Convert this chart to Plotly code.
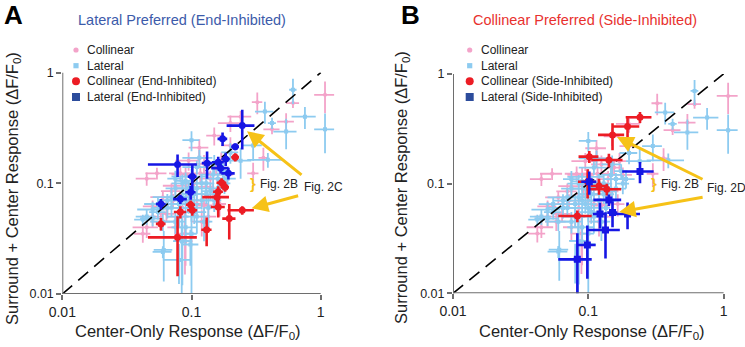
import math
import plotly.graph_objects as go

# ---------------- data (all cells, shared background) ----------------
bg_col_x    = [1.08, 0.61, 0.323, 0.54, 0.42, 0.24, 0.20, 0.30, 0.36, 0.20, 0.15, 0.115, 0.115, 0.095, 0.082, 0.054,
               0.042, 0.064, 0.050, 0.072, 0.125, 0.147, 0.165, 0.117, 0.130, 0.155, 0.092, 0.090, 0.080, 0.070,
               0.105, 0.060, 0.100, 0.120, 0.075, 0.180,
               0.089, 0.065, 0.085, 0.100, 0.110, 0.075, 0.140, 0.058, 0.045, 0.125, 0.090, 0.170, 0.050, 0.135, 0.045]
bg_col_xerr = [0.19, 0.07, 0.03, 0.08, 0.06, 0.05, 0.04, 0.03, 0.03, 0.03, 0.02, 0.02, 0.02, 0.02, 0.015, 0.01,
               0.006, 0.01, 0.008, 0.012, 0.02, 0.02, 0.02, 0.025, 0.02, 0.02, 0.015, 0.012, 0.015, 0.012,
               0.02, 0.012, 0.015, 0.02, 0.01, 0.03,
               0.015, 0.015, 0.02, 0.02, 0.025, 0.015, 0.025, 0.01, 0.01, 0.02, 0.02, 0.02, 0.01, 0.02, 0.008]
bg_col_y    = [0.63, 0.53, 0.54, 0.36, 0.307, 0.40, 0.35, 0.123, 0.17, 0.22, 0.27, 0.21, 0.17, 0.16, 0.123, 0.123,
               0.035, 0.053, 0.062, 0.070, 0.063, 0.085, 0.065, 0.123, 0.093, 0.14, 0.090, 0.030, 0.050, 0.085,
               0.100, 0.075, 0.070, 0.045, 0.040, 0.120,
               0.035, 0.065, 0.060, 0.080, 0.065, 0.095, 0.110, 0.045, 0.040, 0.150, 0.120, 0.160, 0.050, 0.050, 0.110]
bg_col_yerr = [0.20, 0.05, 0.12, 0.07, 0.03, 0.05, 0.06, 0.03, 0.04, 0.04, 0.05, 0.04, 0.03, 0.03, 0.02, 0.015,
               0.006, 0.008, 0.008, 0.01, 0.01, 0.015, 0.015, 0.02, 0.015, 0.02, 0.015, 0.012, 0.01, 0.015,
               0.02, 0.01, 0.012, 0.012, 0.01, 0.02,
               0.02, 0.012, 0.012, 0.015, 0.015, 0.02, 0.02, 0.008, 0.008, 0.03, 0.02, 0.03, 0.01, 0.01, 0.015]

bg_lat_x    = [0.61, 0.37, 0.755, 1.08, 0.54, 0.42, 0.39, 0.30, 0.24, 0.20, 0.10, 0.115, 0.147, 0.13, 0.11, 0.16,
               0.175, 0.09, 0.075, 0.085, 0.065, 0.07, 0.095, 0.105, 0.12, 0.14, 0.055, 0.05, 0.042, 0.06,
               0.08, 0.09, 0.11, 0.125, 0.06, 0.098, 0.085, 0.135, 0.075, 0.10, 0.15, 0.18,
               0.084, 0.100, 0.061, 0.080, 0.070, 0.080, 0.090, 0.100, 0.065, 0.055, 0.110, 0.120, 0.095, 0.085,
               0.130, 0.075, 0.105, 0.160, 0.190, 0.050, 0.150, 0.045]
bg_lat_xerr = [0.04, 0.06, 0.16, 0.19, 0.11, 0.03, 0.12, 0.05, 0.05, 0.03, 0.015, 0.03, 0.03, 0.02, 0.025, 0.03,
               0.02, 0.015, 0.012, 0.02, 0.01, 0.015, 0.02, 0.02, 0.025, 0.02, 0.008, 0.01, 0.006, 0.012,
               0.015, 0.02, 0.02, 0.02, 0.01, 0.015, 0.012, 0.01, 0.01, 0.03, 0.025, 0.02,
               0.012, 0.01, 0.01, 0.02, 0.02, 0.02, 0.025, 0.02, 0.015, 0.012, 0.02, 0.02, 0.02, 0.015,
               0.025, 0.015, 0.025, 0.03, 0.03, 0.012, 0.02, 0.008]
bg_lat_y    = [0.70, 0.445, 0.40, 0.307, 0.293, 0.35, 0.163, 0.22, 0.16, 0.19, 0.245, 0.17, 0.12, 0.10, 0.14, 0.11,
               0.13, 0.105, 0.09, 0.075, 0.07, 0.06, 0.065, 0.08, 0.07, 0.085, 0.055, 0.048, 0.047, 0.045,
               0.05, 0.04, 0.05, 0.045, 0.024, 0.028, 0.03, 0.06, 0.11, 0.115, 0.15, 0.10,
               0.030, 0.035, 0.025, 0.0203, 0.075, 0.065, 0.070, 0.060, 0.060, 0.065, 0.090, 0.100, 0.090, 0.100,
               0.080, 0.045, 0.055, 0.090, 0.110, 0.058, 0.070, 0.050]
bg_lat_yerr = [0.18, 0.10, 0.09, 0.12, 0.09, 0.04, 0.025, 0.06, 0.05, 0.04, 0.05, 0.03, 0.03, 0.02, 0.02, 0.015,
               0.02, 0.02, 0.015, 0.012, 0.01, 0.01, 0.012, 0.015, 0.012, 0.015, 0.008, 0.007, 0.005, 0.008,
               0.01, 0.012, 0.015, 0.015, 0.003, 0.01, 0.018, 0.02, 0.02, 0.02, 0.03, 0.02,
               0.02, 0.025, 0.012, 0.008, 0.015, 0.015, 0.02, 0.015, 0.012, 0.01, 0.02, 0.02, 0.015, 0.02,
               0.015, 0.01, 0.012, 0.02, 0.02, 0.01, 0.015, 0.008]

# ---------------- panel A highlights (end-inhibited) ----------------
a_lat_x    = [0.247, 0.174, 0.218, 0.078, 0.132, 0.161, 0.184, 0.168, 0.193, 0.1015, 0.0985, 0.082, 0.058]
a_lat_xerr = [0.06, 0.015, 0.015, 0.032, 0.012, 0.017, 0.014, 0.026, 0.023, 0.008, 0.009, 0.01, 0.005]
a_lat_y    = [0.332, 0.252, 0.214, 0.148, 0.152, 0.155, 0.166, 0.137, 0.123, 0.115, 0.083, 0.072, 0.065]
a_lat_yerr = [0.13, 0.035, 0.015, 0.034, 0.042, 0.019, 0.023, 0.015, 0.015, 0.031, 0.012, 0.007, 0.007]

a_col_x    = [0.218, 0.171, 0.182, 0.161, 0.158, 0.161, 0.247, 0.196, 0.131, 0.078, 0.082, 0.0985, 0.1015, 0.058]
a_col_xerr = [0.015, 0.015, 0.013, 0.014, 0.037, 0.02, 0.057, 0.023, 0.012, 0.032, 0.009, 0.008, 0.009, 0.005]
a_col_y    = [0.172, 0.101, 0.092, 0.084, 0.075, 0.061, 0.057, 0.048, 0.038, 0.0325, 0.055, 0.064, 0.057, 0.043]
a_col_yerr = [0.015, 0.01, 0.008, 0.01, 0.012, 0.012, 0.005, 0.017, 0.011, 0.018, 0.007, 0.006, 0.006, 0.0055]

# ---------------- panel B highlights (side-inhibited) ----------------
b_col_x    = [0.241, 0.195, 0.151, 0.1017, 0.142, 0.0989, 0.12, 0.137, 0.083]
b_col_xerr = [0.052, 0.043, 0.033, 0.017, 0.037, 0.015, 0.016, 0.038, 0.023]
b_col_y    = [0.403, 0.331, 0.278, 0.176, 0.164, 0.104, 0.095, 0.0888, 0.0507]
b_col_yerr = [0.047, 0.082, 0.077, 0.022, 0.023, 0.031, 0.016, 0.011, 0.0063]

b_lat_x    = [0.241, 0.142, 0.151, 0.122, 0.195, 0.134, 0.0984, 0.083, 0.1017]
b_lat_xerr = [0.063, 0.033, 0.013, 0.014, 0.046, 0.037, 0.015, 0.023, 0.013]
b_lat_y    = [0.129, 0.071, 0.0544, 0.0529, 0.0529, 0.0378, 0.0276, 0.0204, 0.104]
b_lat_yerr = [0.028, 0.0085, 0.0145, 0.014, 0.0145, 0.017, 0.014, 0.0148, 0.025]

tick_vals = [0.01, 0.1, 1]
tick_text = ["0.01", "0.1", "1"]

# ---------------- styles ----------------
PINK = "#F3A3C9"
LBLUE = "#8DCBF0"
RED = "#EC1C24"
BLUE = "#1616E4"
NAVY = "#2C4C9C"
GOLD = "#F6C217"
AXC = "#6E6E6E"
FONT = "Arial, Liberation Sans, sans-serif"
W, H = 745, 347

fig = go.Figure()


def add_pts(x, xe, y, ye, color, symbol, size, thick, xa, ya):
    fig.add_trace(go.Scatter(
        x=x, y=y, mode="markers", xaxis=xa, yaxis=ya, showlegend=False,
        marker=dict(color=color, symbol=symbol, size=size, line=dict(width=0)),
        error_x=dict(type="data", array=xe, visible=True, color=color, thickness=thick, width=0),
        error_y=dict(type="data", array=ye, visible=True, color=color, thickness=thick, width=0),
        hoverinfo="skip"))


panels = [("x", "y", a_col_x, a_col_xerr, a_col_y, a_col_yerr, a_lat_x, a_lat_xerr, a_lat_y, a_lat_yerr),
          ("x2", "y2", b_col_x, b_col_xerr, b_col_y, b_col_yerr, b_lat_x, b_lat_xerr, b_lat_y, b_lat_yerr)]

for xa, ya, cx, cxe, cy, cye, lx, lxe, ly, lye in panels:
    add_pts(bg_col_x, bg_col_xerr, bg_col_y, bg_col_yerr, PINK, "circle", 4, 1.8, xa, ya)
    add_pts(bg_lat_x, bg_lat_xerr, bg_lat_y, bg_lat_yerr, LBLUE, "square", 4, 1.8, xa, ya)
    fig.add_trace(go.Scatter(x=[0.01, 1], y=[0.01, 1], mode="lines", xaxis=xa, yaxis=ya, showlegend=False,
                             line=dict(color="black", width=1.6, dash="13px,8px"), hoverinfo="skip"))
    if xa == "x":
        add_pts(lx, lxe, ly, lye, BLUE, "circle", 7, 2.6, xa, ya)
        add_pts(cx, cxe, cy, cye, RED, "circle", 7, 2.6, xa, ya)
    else:
        add_pts(cx, cxe, cy, cye, RED, "circle", 7, 2.6, xa, ya)
        add_pts(lx, lxe, ly, lye, BLUE, "square", 7, 2.6, xa, ya)

A_x0, A_xdec, A_y0, A_ydec = 62.3, 129.2, 294.0, 110.7
B_x0, B_xdec, B_y0, B_ydec = 453.0, 135.3, 293.3, 109.7
XR = [-2, 0.12]
YR = [-2, 0]


def xdom(x0, dec):
    return [x0 / W, (x0 + dec * (XR[1] - XR[0])) / W]


def ydom(y0, dec):
    return [(H - y0) / H, (H - y0 + dec * (YR[1] - YR[0])) / H]


axcommon = dict(type="log", showgrid=False, zeroline=False, showline=False, ticks="outside", automargin=False,
                ticklen=5, tickwidth=1.5, tickcolor=AXC, tickvals=tick_vals, ticktext=tick_text)

fig.update_layout(
    width=W, height=H, margin=dict(l=0, r=0, t=0, b=0, autoexpand=False),
    paper_bgcolor="white", plot_bgcolor="rgba(0,0,0,0)", showlegend=False,
    font=dict(family=FONT, color="#222"),
    xaxis=dict(axcommon, range=XR, domain=xdom(A_x0, A_xdec), anchor="y", tickfont=dict(size=14)),
    yaxis=dict(axcommon, range=YR, domain=ydom(A_y0, A_ydec), anchor="x", tickfont=dict(size=12.5)),
    xaxis2=dict(axcommon, range=XR, domain=xdom(B_x0, B_xdec), anchor="y2", tickfont=dict(size=14)),
    yaxis2=dict(axcommon, range=YR, domain=ydom(B_y0, B_ydec), anchor="x2", tickfont=dict(size=12.5)),
)

shapes = []
# axis lines from 0.01 to 1
for xr, yr in [("x", "y"), ("x2", "y2")]:
    shapes.append(dict(type="line", xref=xr, yref=yr, x0=0.01, x1=1, y0=0.01, y1=0.01,
                       line=dict(color=AXC, width=2)))
    shapes.append(dict(type="line", xref=xr, yref=yr, x0=0.01, x1=0.01, y0=0.01, y1=1,
                       line=dict(color=AXC, width=2)))

annotations = []


def ptext(x, y, text, size, color="#222", xanchor="left", bold=False, angle=0):
    annotations.append(dict(xref="paper", yref="paper", x=x / W, y=1 - y / H, text=("<b>%s</b>" % text) if bold else text,
                            showarrow=False, xanchor=xanchor, yanchor="middle", textangle=angle,
                            font=dict(size=size, color=color, family=FONT)))


# legends
legend_rows = [50, 65.7, 81.3, 97]
for mx, tx, labels in [(76, 85, ["Collinear", "Lateral", "Collinear (End-Inhibited)", "Lateral (End-Inhibited)"]),
                       (469.7, 478.7, ["Collinear", "Lateral", "Collinear (Side-Inhibited)", "Lateral (Side-Inhibited)"])]:
    specs = [("circle", PINK, 2.6), ("rect", LBLUE, 2.6), ("circle", RED, 4), ("rect", NAVY, 4)]
    for (kind, col, r), ry, lab in zip(specs, legend_rows, labels):
        shapes.append(dict(type=kind, xref="paper", yref="paper",
                           x0=(mx - r) / W, x1=(mx + r) / W, y0=1 - (ry + r) / H, y1=1 - (ry - r) / H,
                           fillcolor=col, line=dict(width=0)))
        ptext(tx, ry, lab, 12)

# titles and panel letters
ptext(2, 15, "A", 26, color="black", bold=True)
ptext(399, 15, "B", 26, color="black", bold=True)
ptext(181.7, 20, "Lateral Preferred (End-Inhibited)", 14.5, color="#3C5BAA", xanchor="center")
ptext(585, 20, "Collinear Preferred (Side-Inhibited)", 14.5, color="#E8312E", xanchor="center")

# axis titles
ptext(188, 332, "Center-Only Response (ΔF/F<sub>0</sub>)", 16.5, xanchor="center")
ptext(592, 332, "Center-Only Response (ΔF/F<sub>0</sub>)", 16.5, xanchor="center")
ptext(13, 189, "Surround + Center Response (ΔF/F<sub>0</sub>)", 16.5, xanchor="center", angle=-90)
ptext(402, 187, "Surround + Center Response (ΔF/F<sub>0</sub>)", 16.5, xanchor="center", angle=-90)

# figure references
ptext(302, 187, "Fig. 2C", 12)
ptext(258, 184, "Fig. 2B", 12)
ptext(248, 183, "}", 15, color=GOLD, bold=True)
ptext(705, 188, "Fig. 2D", 12)
ptext(658.7, 184, "Fig. 2B", 12)
ptext(649, 183, "}", 15, color=GOLD, bold=True)

arrows = [("x", "y", 0.269, 0.296, 56, 45), ("x", "y", 0.292, 0.0594, 48, -13),
          ("x2", "y2", 0.163, 0.266, 87, 43), ("x2", "y2", 0.169, 0.055, 85, -15)]
for xr, yr, tx, ty, ax, ay in arrows:
    annotations.append(dict(xref=xr, yref=yr, x=math.log10(tx), y=math.log10(ty), ax=ax, ay=ay,
                            text="", showarrow=True, arrowhead=2, arrowsize=1.1, arrowwidth=3,
                            arrowcolor=GOLD, standoff=0))

fig.update_layout(shapes=shapes, annotations=annotations)
fig.write_html("out.html", config={"displayModeBar": False},
               post_script="document.body.style.margin='0';document.body.style.padding='0';")
